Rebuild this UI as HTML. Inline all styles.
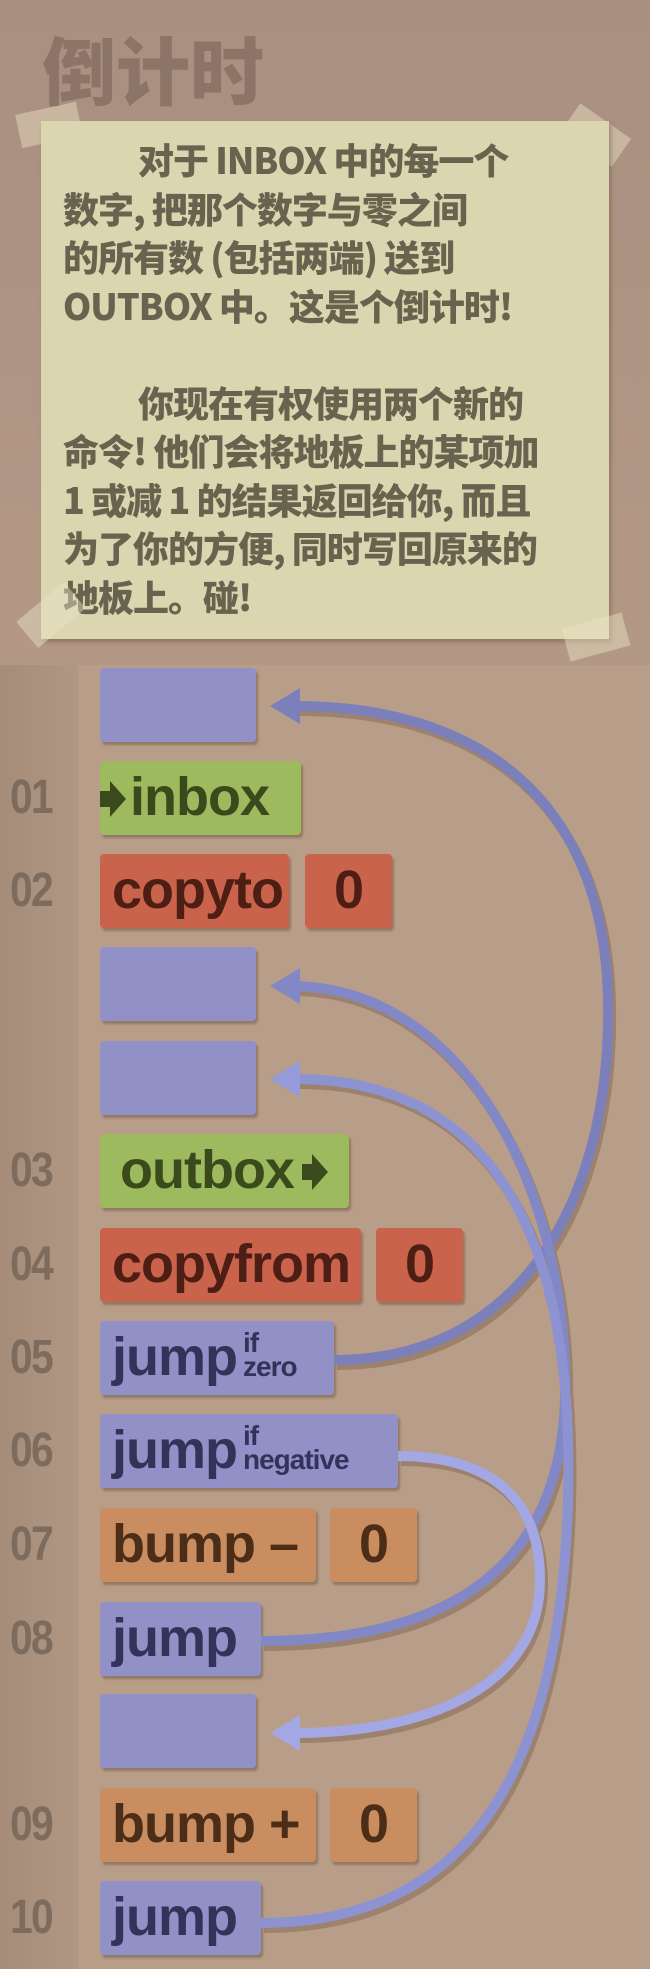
<!DOCTYPE html>
<html><head><meta charset="utf-8"><style>
html,body{margin:0;padding:0}
body{width:650px;height:1969px;position:relative;overflow:hidden;background:#b89e88;font-family:"Liberation Sans","Noto Sans CJK SC",sans-serif}
.top{position:absolute;left:0;top:0;width:650px;height:665px;background:linear-gradient(#a98f80,#b39985)}
.title{position:absolute;left:42px;top:14px;font-size:74px;font-weight:900;color:#8c7566;font-family:"Noto Sans CJK SC",sans-serif;letter-spacing:0px}
.tape{position:absolute;background:rgba(235,228,200,.45);width:62px;height:34px}
.note{position:absolute;left:41px;top:121px;width:568px;height:518px;background:#dcd6b0;box-shadow:2px 3px 4px rgba(90,70,50,.4)}
.txt{position:absolute;left:22px;top:14px;width:546px;font-family:"Noto Sans CJK SC",sans-serif;font-weight:900;font-size:36px;line-height:48.5px;color:#67634f;letter-spacing:-1px;white-space:nowrap}
.gut{position:absolute;left:0;top:665px;width:78px;height:1304px;background:linear-gradient(90deg,#a58c79,#b09784)}
.num{position:absolute;left:10px;width:60px;font-size:48px;font-weight:bold;color:#7d6b5d;letter-spacing:-2px;transform:scaleX(.85);transform-origin:left}
.b{position:absolute;height:74px;border-radius:4px;box-shadow:2px 3px 2px rgba(100,75,55,.45);font-weight:bold;font-size:54px;line-height:72px;white-space:nowrap;overflow:visible;letter-spacing:-1px}
.bl{background:#9191c8;color:#33335a}
.gr{background:#9dba5e;color:#3a4a1c}
.rd{background:#c9634c;color:#4c1e14}
.or{background:#c98d60;color:#4b2d18}
.sm{display:inline-block;font-size:28px;line-height:24px;vertical-align:top;margin-top:10px;margin-left:6px;letter-spacing:-1px}
</style></head><body>
<div class="top"></div>
<div class="title">倒计时</div>
<div class="tape" style="left:18px;top:108px;transform:rotate(-12deg)"></div>
<div class="tape" style="left:565px;top:118px;transform:rotate(35deg)"></div>
<div class="note">
<div class="txt"><span style="padding-left:75px">对于 INBOX 中的每一个</span><br>数字, 把那个数字与零之间<br>的所有数 (包括两端) 送到<br>OUTBOX 中。这是个倒计时!<br><br><span style="padding-left:75px">你现在有权使用两个新的</span><br>命令! 他们会将地板上的某项加<br>1 或减 1 的结果返回给你, 而且<br>为了你的方便, 同时写回原来的<br>地板上。碰!</div>
</div>
<div class="tape" style="left:20px;top:598px;transform:rotate(-40deg)"></div>
<div class="tape" style="left:565px;top:620px;transform:rotate(-15deg)"></div>
<div class="gut"></div>

<div class="num" style="top:770px">01</div>
<div class="num" style="top:863px">02</div>
<div class="num" style="top:1143px">03</div>
<div class="num" style="top:1237px">04</div>
<div class="num" style="top:1330px">05</div>
<div class="num" style="top:1423px">06</div>
<div class="num" style="top:1517px">07</div>
<div class="num" style="top:1611px">08</div>
<div class="num" style="top:1797px">09</div>
<div class="num" style="top:1890px">10</div>

<div class="b bl" style="left:100px;top:668px;width:156px"></div>
<div class="b gr" style="left:100px;top:761px;width:201px"><svg width="28" height="40" style="vertical-align:-4px;margin-right:2px"><polygon fill="#3a4a1c" points="0,12 10,12 10,2 26,20 10,38 10,28 0,28"/></svg>inbox</div>
<div class="b rd" style="left:100px;top:854px;width:189px"><span style="padding-left:12px">copyto</span></div>
<div class="b rd" style="left:305px;top:854px;width:87px;text-align:center">0</div>
<div class="b bl" style="left:100px;top:947px;width:156px"></div>
<div class="b bl" style="left:100px;top:1041px;width:156px"></div>
<div class="b gr" style="left:100px;top:1134px;width:249px"><span style="padding-left:20px">outbox</span><svg width="32" height="40" style="vertical-align:-4px;margin-left:8px"><polygon fill="#3a4a1c" points="0,12 10,12 10,2 26,20 10,38 10,28 0,28"/></svg></div>
<div class="b rd" style="left:100px;top:1228px;width:261px"><span style="padding-left:12px">copyfrom</span></div>
<div class="b rd" style="left:376px;top:1228px;width:87px;text-align:center">0</div>
<div class="b bl" style="left:100px;top:1321px;width:234px"><span style="padding-left:12px">jump</span><span class="sm">if<br>zero</span></div>
<div class="b bl" style="left:100px;top:1414px;width:298px"><span style="padding-left:12px">jump</span><span class="sm">if<br>negative</span></div>
<div class="b or" style="left:100px;top:1508px;width:216px"><span style="padding-left:12px">bump –</span></div>
<div class="b or" style="left:330px;top:1508px;width:87px;text-align:center">0</div>
<div class="b bl" style="left:100px;top:1602px;width:161px"><span style="padding-left:12px">jump</span></div>
<div class="b bl" style="left:100px;top:1694px;width:156px"></div>
<div class="b or" style="left:100px;top:1788px;width:216px"><span style="padding-left:12px">bump +</span></div>
<div class="b or" style="left:330px;top:1788px;width:87px;text-align:center">0</div>
<div class="b bl" style="left:100px;top:1881px;width:161px"><span style="padding-left:12px">jump</span></div>

<svg width="650" height="1969" style="position:absolute;left:0;top:0" fill="none">
<g stroke="#8a6f5c" stroke-width="10" opacity=".6" transform="translate(3,5)">
<path d="M334,1360 C520,1360 612,1200 608,1000 C604,800 480,706 295,706"/>
<path d="M261,1641 C470,1641 560,1550 565,1400 C570,1200 470,990 295,986"/>
<path d="M261,1923 C470,1923 560,1770 568,1500 C575,1250 500,1079 295,1079"/>
<path d="M398,1456 C480,1456 540,1490 540,1580 C540,1690 420,1733 295,1733"/>
</g>
<g stroke-width="10">
<path stroke="#7b80bb" d="M334,1360 C520,1360 612,1200 608,1000 C604,800 480,706 295,706"/>
<path stroke="#8288c6" d="M261,1641 C470,1641 560,1550 565,1400 C570,1200 470,990 295,986"/>
<path stroke="#8d93d0" d="M261,1923 C470,1923 560,1770 568,1500 C575,1250 500,1079 295,1079"/>
<path stroke="#a3a7e4" d="M398,1456 C480,1456 540,1490 540,1580 C540,1690 420,1733 295,1733"/>
</g>
<polygon fill="#7b80bb" points="270,706 300,688 300,724"/>
<polygon fill="#8288c6" points="270,986 300,968 300,1004"/>
<polygon fill="#959bd8" points="270,1079 300,1061 300,1097"/>
<polygon fill="#a3a7e4" points="270,1733 300,1715 300,1751"/>
</svg>
</body></html>
